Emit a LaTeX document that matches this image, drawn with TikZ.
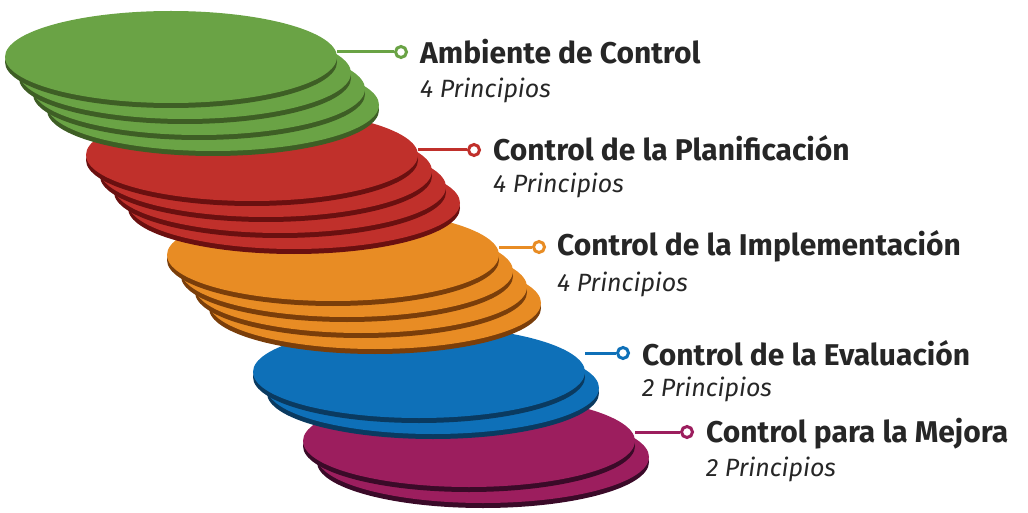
\documentclass[tikz,border=0pt]{standalone}
\usepackage{fontspec}
\setmainfont{Fira Sans}
\usetikzlibrary{shapes.geometric, positioning}

\definecolor{verde}{HTML}{6AA345}\definecolor{verdeO}{HTML}{3E5E25}
\definecolor{rojo}{HTML}{C0302B}\definecolor{rojoO}{HTML}{6A1010}
\definecolor{naranja}{HTML}{E88C24}\definecolor{naranjaO}{HTML}{7A3E0A}
\definecolor{azul}{HTML}{0E70B8}\definecolor{azulO}{HTML}{0A3A60}
\definecolor{morado}{HTML}{9C1E5E}\definecolor{moradoO}{HTML}{3A0A28}

\tikzset{
  disc/.style={ellipse, minimum width=332pt, minimum height=92pt, inner sep=0pt},
  dot/.style={circle, draw=#1, fill=white, line width=3pt, minimum size=11pt, inner sep=0pt},
  lead/.style={draw=#1, line width=3pt},
  titulo/.style={anchor=west, font=\fontsize{30}{34}\selectfont\bfseries, text=black!85, inner sep=0pt},
  sub/.style={anchor=west, font=\fontsize{25}{28}\selectfont\itshape, text=black!85, inner sep=0pt}
}

\begin{document}
\begin{tikzpicture}[x=1pt, y=-1pt]
    \useasboundingbox (0,0) rectangle (1028,513);

    % pilas de discos, de abajo hacia arriba
    \foreach \cx/\cy/\n/\col in {469/441/2/morado, 419/372/2/azul, 333/255/4/naranja, 252/155/4/rojo, 171/57/4/verde}{
        \foreach \i in {\n,...,1}{
            \pgfmathsetmacro{\dx}{\cx+14*(\i-1)}
            \pgfmathsetmacro{\dy}{\cy+16*(\i-1)}
            \node[disc, fill=\col O] at (\dx,\dy+5) {};
            \node[disc, fill=\col] (\col\i) at (\dx,\dy) {};
        }
    }

    % etiquetas
    \node[dot=verde] (pverde) at (401,52) {};
    \node[titulo] (tverde) at (420,52) {Ambiente de Control};
    \node[sub] (sverde) at (420,90) {4 Principios};
    \draw[lead=verde] (verde1.east |- pverde) -- (pverde);

    \node[dot=rojo] (projo) at (474,150) {};
    \node[titulo] (trojo) at (493,148) {Control de la Planificación};
    \node[sub] (srojo) at (493,185) {4 Principios};
    \draw[lead=rojo] (rojo1.east |- projo) -- (projo);

    \node[dot=naranja] (pnaranja) at (539,247) {};
    \node[titulo] (tnaranja) at (557,246) {Control de la Implementación};
    \node[sub] (snaranja) at (557,284) {4 Principios};
    \draw[lead=naranja] (naranja1.east |- pnaranja) -- (pnaranja);

    \node[dot=azul] (pazul) at (623,353) {};
    \node[titulo] (tazul) at (642,353) {Control de la Evaluación};
    \node[sub] (sazul) at (642,389) {2 Principios};
    \draw[lead=azul] (azul1.east |- pazul) -- (pazul);

    \node[dot=morado] (pmorado) at (687,432) {};
    \node[titulo] (tmorado) at (706,434) {Control para la Mejora};
    \node[sub] (smorado) at (706,469) {2 Principios};
    \draw[lead=morado] (morado1.east |- pmorado) -- (pmorado);
\end{tikzpicture}
\end{document}
